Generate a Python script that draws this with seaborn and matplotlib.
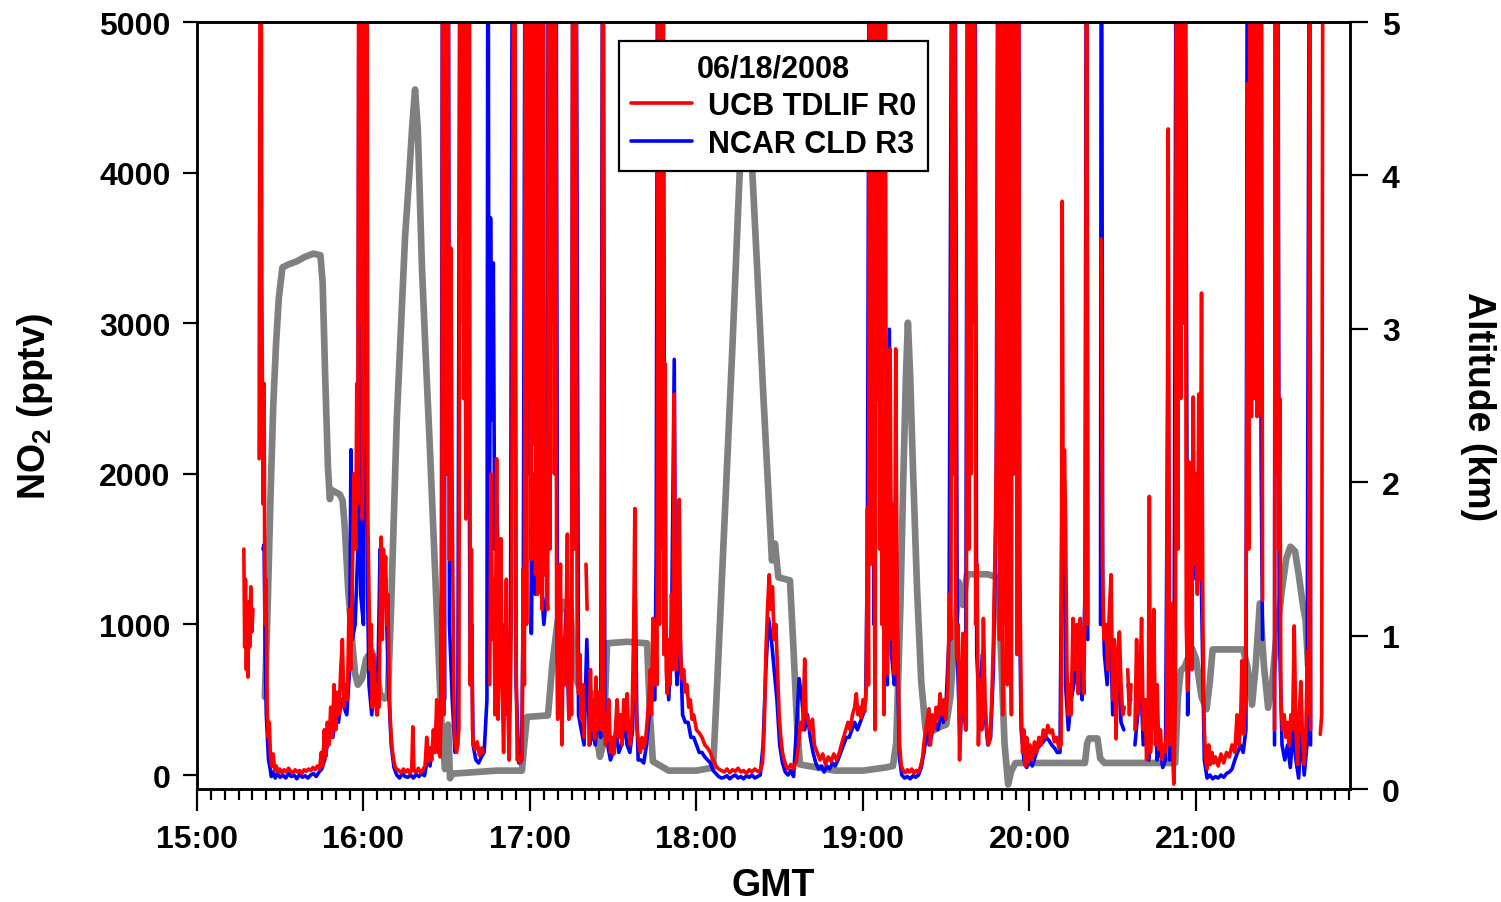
import numpy as np
import pandas as pd
import seaborn as sns
import matplotlib.pyplot as plt
from matplotlib.lines import Line2D
from matplotlib.ticker import MultipleLocator

# time in minutes after 15:00 GMT, NO2 in pptv, None = gap in the record
red = [
    (16.9, 1500), (17.2, 850), (17.5, 1300), (17.8, 700), (18.1, 1050), (18.4, 650), (18.7, 1150),
    (19.0, 850), (19.4, 1250), (19.8, 950), (20.2, 1100), (20.6, None),
    (22.4, 2100), (22.6, 4200), (23.0, 7000), (23.4, 3300), (23.8, 1800), (24.2, 2600), (24.5, 1000),
    (24.9, 1300), (25.3, 450), (25.7, 250), (26.1, 350), (26.5, 120), (27.0, 60), (27.5, 140), (28.0, 30),
    (28.6, 60), (29.2, 20), (29.8, 40), (30.6, 15), (31.4, 35), (32.2, 20), (33.0, 45), (33.8, 25),
    (34.6, 15), (35.4, 35), (36.2, 20), (37.0, 30), (37.8, 10), (38.6, 35), (39.4, 25), (40.2, 40),
    (41.0, 30), (41.8, 50), (42.6, 35), (43.4, 60), (44.2, 40), (44.8, 150), (45.3, 60), (45.9, 300),
    (46.4, 120), (47.0, 350), (47.6, 200), (48.2, 450), (48.8, 250), (49.4, 600), (50.0, 300), (50.6, 550),
    (51.2, 400), (51.8, 700), (52.4, 900), (53.0, 450), (53.6, 600), (54.2, 500), (54.8, 1100), (55.4, 700),
    (56.0, 1300), (56.6, 2000), (57.2, 1500), (57.6, 2600), (58.0, 1800), (58.4, 7000), (58.8, 3000),
    (59.2, 7000), (59.6, 1700), (60.0, 2400), (60.4, 7000), (60.8, 3500), (61.2, 7000), (61.6, 1700),
    (62.0, 1200), (62.4, 700), (62.8, 1000), (63.2, 450), (63.6, 800), (64.0, 700), (64.4, 500), (64.8, 400),
    (65.2, 600), (65.6, 450), (66.0, 1000), (66.4, 1580), (66.8, 900), (67.2, 1500), (67.6, 1300),
    (68.0, 1450), (68.4, 1000), (68.8, 1200), (69.2, 700), (69.6, 400), (70.0, 250), (70.5, 150), (71.0, 90),
    (71.5, 50), (72.0, 40), (72.8, 30), (73.6, 15), (74.4, 40), (75.2, 20), (76.0, 35), (76.8, 10),
    (77.4, 40), (77.8, 320), (78.2, 30), (79.0, 20), (79.8, 45), (80.6, 15), (81.4, 35), (82.2, 60),
    (82.8, 250), (83.4, 90), (84.0, 180), (84.6, 100), (85.2, 300), (85.8, 150), (86.4, 500), (87.0, 250),
    (87.6, 120), (88.2, 600), (88.6, 7000), (89.0, 400), (89.5, 7000), (90.0, 2000), (90.5, 6000),
    (91.0, 1430), (91.5, 3500), (92.0, 1800), (92.4, 900), (92.8, 250), (93.6, 150), (94.4, 300),
    (94.9, 7000), (95.3, 3600), (95.7, 7000), (96.1, 2500), (96.5, 4800), (96.9, 1700), (97.3, 7000),
    (97.7, 2000), (98.1, 7000), (98.5, 600), (98.9, 1500), (99.3, 300), (99.7, 200), (100.2, 170),
    (101.0, 220), (101.8, 130), (102.6, 180), (103.2, 150), (103.6, None),
    (105.5, 600), (106.0, 2000), (106.5, 900), (107.0, 1300), (107.4, 400), (108.0, 2100), (108.5, 370),
    (109.0, 900), (109.5, 1570), (110.0, 600), (110.5, 150), (111.0, 700), (111.5, 1300), (112.0, 500),
    (112.5, 100), (113.0, 600), (113.4, 1200), (114.3, 7000), (114.7, 4650), (115.0, 800), (115.4, 100),
    (116.0, 120), (116.6, 80), (117.2, 150), (117.6, 1370), (118.0, 600), (118.4, 7000), (118.8, 1000),
    (119.2, 7000), (119.6, 2500), (120.0, 7000), (120.4, 1430), (120.8, 7000), (121.2, 2200), (121.6, 7000),
    (122.0, 1330), (122.4, 4000), (122.8, 1200), (123.2, 7000), (123.6, 1500), (124.0, 3300), (124.4, 1100),
    (124.8, 7000), (125.2, 1330), (125.6, 2000), (126.0, 1200), (126.4, 1100), (126.8, 7000), (127.2, 1500),
    (127.6, 7000), (128.0, 3000), (128.4, 7000), (128.8, 2000), (129.2, 7000), (129.6, 1100), (130.0, 370),
    (130.5, 800), (131.0, 1400), (131.5, 200), (132.0, 900), (132.5, 600), (133.0, 1000), (133.5, 1600),
    (134.0, 370), (134.5, 900), (135.0, 400), (135.5, 7000), (136.0, 1500), (136.5, 7000), (137.0, 900),
    (137.5, 540), (138.0, 800), (138.5, 370), (139.0, 600), (139.5, 250), (139.8, None),
    (140.2, 1400), (140.6, 1100), (140.8, None),
    (141.3, 200), (141.8, 700), (142.3, 300), (142.8, 500), (143.3, 240), (143.8, 650), (144.3, 300),
    (144.8, 550), (145.3, 400), (145.8, 300), (146.3, 7000), (146.7, 400), (147.2, 200), (147.8, 300),
    (148.4, 500), (149.0, 150), (149.6, 250), (150.2, 140), (150.8, 300), (151.4, 500), (152.0, 250),
    (152.6, 400), (153.2, 200), (153.8, 500), (154.4, 300), (155.0, 540), (155.6, 250), (156.2, 200),
    (156.8, 400), (157.4, 1000), (157.8, 1770), (158.2, 500), (158.6, 300), (159.2, 200), (159.8, 150),
    (160.4, 250), (161.0, 180), (161.6, 220), (162.2, 350), (162.8, 500), (163.4, 700), (163.8, 400),
    (164.3, 1040), (164.8, 600), (165.3, 900), (165.8, 600), (166.3, 7000), (166.7, 1000), (167.1, 7000),
    (167.5, 1500), (167.9, 7000), (168.3, 800), (168.7, 2730), (169.1, 700), (169.5, 540), (170.0, 900),
    (170.5, 600), (171.0, 1200), (171.5, 700), (172.0, 2530), (172.4, 900), (172.8, 700), (173.3, 1100),
    (173.8, 1830), (174.3, 800), (174.8, 640), (175.4, 700), (176.0, 550), (176.6, 600), (177.2, 450),
    (177.8, 500), (178.4, 370), (179.0, 400), (180.0, 300), (181.0, 280), (182.0, 250), (183.0, 200),
    (184.0, 180), (185.0, 150), (186.0, 100), (187.0, 60), (188.0, 40), (189.0, 30), (190.0, 20),
    (191.0, 40), (192.0, 15), (193.0, 35), (194.0, 25), (195.0, 45), (196.0, 20), (197.0, 30), (198.0, 10),
    (199.0, 35), (200.0, 20), (201.0, 40), (202.0, 25), (203.0, 30), (203.8, 80), (204.4, 300), (205.0, 800),
    (205.6, 1100), (206.2, 1330), (206.8, 1100), (207.4, 1250), (208.0, 900), (208.6, 1000), (209.2, 700),
    (209.8, 400), (210.4, 250), (211.0, 150), (211.6, 100), (212.3, 60), (213.0, 40), (214.0, 70),
    (215.0, 40), (216.0, 90), (216.8, 200), (217.5, 350), (218.3, 300), (219.0, 770), (219.5, 400),
    (220.2, 370), (221.0, 300), (221.8, 370), (222.5, 200), (223.5, 150), (224.5, 100), (225.5, 140),
    (226.5, 70), (227.5, 120), (228.5, 90), (229.5, 140), (230.5, 100), (231.5, 150), (232.2, 200),
    (233.0, 250), (233.8, 300), (234.6, 350), (235.4, 300), (236.2, 400), (237.0, 450), (237.6, 540),
    (238.2, 400), (238.8, 450), (239.4, 380), (240.0, 500), (240.6, 420), (241.2, 600), (241.6, 1770),
    (242.0, 600), (242.4, 7000), (242.8, 1400), (243.2, 7000), (243.6, 2000), (244.0, 1600), (244.4, 300),
    (244.8, 7000), (245.2, 2500), (245.6, 7000), (246.0, 1500), (246.4, 7000), (246.8, 1000), (247.2, 3000),
    (247.6, 400), (248.0, 7000), (248.4, 1200), (248.8, 670), (249.3, 1500), (249.8, 2830), (250.3, 900),
    (250.8, 1800), (251.3, 670), (251.8, 2830), (252.3, 1200), (252.7, 640), (253.2, 200), (253.8, 60),
    (254.5, 30), (255.3, 15), (256.0, 35), (256.8, 20), (257.6, 40), (258.4, 10), (259.2, 30), (260.0, 20),
    (260.8, 60), (261.5, 120), (262.2, 250), (263.0, 350), (263.8, 440), (264.3, 200), (265.0, 400),
    (265.7, 300), (266.4, 450), (267.1, 370), (267.8, 540), (268.5, 400), (269.2, 500), (269.9, 370),
    (270.6, 600), (271.2, 1200), (271.7, 900), (272.2, 7000), (272.6, 2000), (273.0, 7000), (273.4, 1200),
    (273.8, 770), (274.3, 1000), (274.8, 100), (275.4, 500), (276.0, 940), (276.6, 400), (277.2, 300),
    (277.8, 7000), (278.2, 1500), (278.6, 7000), (279.0, 2000), (279.4, 7000), (279.8, 3000), (280.2, 7000),
    (280.6, 1000), (281.1, 1400), (281.6, 200), (282.2, 640), (282.8, 300), (283.4, 1040), (284.0, 500),
    (284.6, 300), (285.2, 200), (285.8, 240), (286.4, 500), (287.0, 900), (287.6, 1500), (288.2, 2300),
    (288.8, 7000), (289.2, 900), (289.6, 7000), (290.0, 1500), (290.4, 400), (290.8, 7000), (291.2, 1000),
    (291.6, 7000), (292.0, 600), (292.5, 7000), (293.0, 1500), (293.5, 400), (294.0, 7000), (294.5, 2000),
    (295.0, 7000), (295.5, 800), (296.0, 7000), (296.5, 1370), (297.0, 500), (297.5, 150), (298.0, 300),
    (298.5, 60), (299.0, 250), (299.5, 80), (300.2, 200), (301.0, 100), (301.8, 220), (302.6, 150),
    (303.4, 250), (304.2, 200), (305.0, 300), (305.8, 250), (306.6, 330), (307.4, 280), (308.2, 300),
    (309.0, 220), (309.8, 250), (310.6, 180), (311.4, 200), (311.8, 3810), (312.2, 1500), (312.6, 2160),
    (313.0, 1700), (313.5, 700), (314.0, 400), (314.5, 600), (315.0, 400), (315.7, 1040), (316.3, 700),
    (317.0, 1000), (317.6, 540), (318.3, 1040), (319.0, 800), (319.6, 540), (320.2, 1500), (320.6, 7000),
    (321.0, 1000), (321.3, None),
    (325.8, 3560), (326.3, 1400), (326.8, 900), (327.5, 1000), (328.2, 700), (328.8, 1100), (329.4, 1330),
    (330.0, 500), (330.6, 900), (331.2, 240), (331.8, 800), (332.4, 950), (333.0, 600), (333.6, 400),
    (334.2, 450), (334.6, None),
    (335.4, 700), (336.0, 400), (336.6, 600), (337.0, None),
    (338.0, 300), (338.6, 900), (339.2, 400), (339.8, 600), (340.4, 1040), (341.0, 300), (341.6, 500),
    (342.2, 100), (342.8, 400), (343.2, 1850), (343.6, 150), (344.2, 400), (344.8, 1100), (345.4, 200),
    (346.0, 600), (346.6, 170), (347.2, 300), (347.8, 100), (348.4, 200), (349.0, 150), (349.4, 300),
    (350.0, 4290), (350.5, 200), (351.0, 1140), (351.5, 400), (352.0, -60), (352.6, 500), (353.0, 7000),
    (353.5, 1500), (354.0, 7000), (354.5, 2500), (355.0, 7000), (355.5, 3000), (356.0, 7000), (356.5, 1000),
    (357.0, 560), (357.5, 2080), (358.0, 1500), (358.5, 700), (359.0, 2510), (359.5, 1400), (360.0, 2000),
    (360.5, 1200), (361.0, 2530), (361.5, 1300), (362.0, 3200), (362.5, 1000), (363.0, 300), (363.5, 100),
    (364.0, 40), (364.6, 200), (365.2, 70), (365.8, 150), (366.4, 80), (367.0, 120), (368.0, 60),
    (369.0, 140), (370.0, 80), (371.0, 150), (372.0, 120), (373.0, 200), (374.0, 150), (374.8, 400),
    (375.4, 200), (376.0, 300), (376.6, 760), (377.2, 270), (377.8, 500), (378.2, 1720), (378.6, 4590),
    (379.0, 1500), (379.5, 7000), (380.0, 2380), (380.5, 7000), (381.0, 2500), (381.5, 7000), (382.0, 2380),
    (382.5, 7000), (383.0, 2400), (383.5, 7000), (384.0, 1160), (384.3, None),
    (388.3, 300), (388.6, 7000), (389.0, 2000), (389.4, 7000), (389.8, 1500), (390.2, 2500), (390.6, 500),
    (391.2, 300), (391.8, 400), (392.4, 250), (393.0, 350), (393.6, 200), (394.2, 400), (394.8, 300),
    (395.4, 990), (396.0, 300), (396.6, 70), (397.2, 400), (397.8, 620), (398.4, 250), (399.0, 70),
    (399.6, 300), (400.2, 820), (400.6, 400), (401.0, 7000), (401.3, 300), (401.6, None),
    (404.8, 270), (405.3, 400), (405.8, 7000),
]

blue = [
    (23.8, 1500), (24.2, 1530), (24.6, 800), (25.0, 400), (25.4, 250), (25.8, 100), (26.3, 50), (26.8, -10),
    (27.5, 20), (28.2, -20), (29.0, 10), (30.0, -15), (31.0, 0), (32.0, -20), (33.0, 10), (34.0, -10),
    (35.0, 0), (36.0, -25), (37.0, 5), (38.0, -15), (39.0, -5), (40.0, -20), (41.0, 0), (42.0, 10),
    (43.0, -10), (44.0, 20), (45.0, 40), (46.0, 100), (47.0, 200), (48.0, 300), (49.0, 250), (50.0, 400),
    (51.0, 350), (52.0, 500), (53.0, 450), (54.0, 400), (55.0, 700), (55.5, 2160), (56.0, 900), (57.0, 1000),
    (58.0, 1500), (58.5, 7000), (59.0, 1200), (60.0, 1000), (60.5, 7000), (61.0, 3500), (61.5, 1200),
    (62.0, 600), (63.0, 400), (64.0, 700), (65.0, 400), (66.0, 1500), (67.0, 1200), (68.0, 1300),
    (69.0, 600), (70.0, 200), (71.0, 50), (72.0, 0), (73.0, -20), (74.0, 10), (75.0, -10), (76.0, -15),
    (77.0, 0), (78.0, -20), (79.0, 5), (80.0, -10), (81.0, 10), (82.0, -5), (83.0, 100), (84.0, 60),
    (85.0, 200), (86.0, 300), (87.0, 150), (88.0, 400), (88.6, 7000), (89.2, 500), (89.5, 7000),
    (90.0, 2000), (90.5, 7000), (91.0, 1000), (92.0, 500), (93.0, 150), (94.0, 200), (94.9, 7000),
    (95.3, 3660), (95.7, 7000), (96.1, 3000), (96.5, 7000), (97.0, 3600), (97.5, 2000), (98.0, 2500),
    (98.5, 600), (99.0, 1000), (99.5, 200), (100.5, 100), (101.5, 80), (102.5, 120), (103.5, 150),
    (104.5, 500), (104.9, 7000), (105.3, 740), (105.8, 3700), (106.3, 2360), (106.8, 3400), (107.3, 1500),
    (108.0, 1800), (109.0, 1200), (110.0, 600), (111.0, 1000), (112.0, 400), (113.0, 1000), (113.8, 7000),
    (114.3, 7000), (115.0, 600), (116.0, 80), (117.0, 100), (117.6, 1200), (118.4, 7000), (119.5, 2000),
    (120.0, 7000), (120.5, 940), (121.0, 2000), (122.0, 1200), (123.2, 7000), (124.0, 1300), (125.0, 1000),
    (126.0, 1200), (126.8, 7000), (127.6, 7000), (128.5, 7000), (129.3, 7000), (130.0, 400), (131.0, 900),
    (132.0, 600), (133.0, 1100), (134.0, 400), (135.0, 600), (135.5, 7000), (136.5, 7000), (137.5, 400),
    (138.5, 300), (139.5, 200), (140.5, 900), (141.5, 200), (142.5, 300), (143.5, 200), (144.5, 400),
    (145.5, 250), (146.3, 7000), (147.0, 300), (148.0, 200), (149.0, 100), (150.0, 150), (151.0, 300),
    (152.0, 150), (153.0, 200), (154.0, 350), (155.0, 200), (156.0, 150), (157.0, 300), (158.0, 1170),
    (158.5, 400), (159.0, 100), (160.0, 100), (161.0, 80), (162.0, 200), (163.0, 400), (164.0, 500),
    (165.0, 500), (165.5, 1500), (166.1, 7000), (166.6, 7000), (167.2, 5000), (167.9, 7000), (168.5, 1500),
    (169.0, 900), (170.0, 500), (171.0, 900), (172.0, 2760), (172.5, 800), (173.0, 600), (174.0, 1000),
    (175.0, 400), (176.0, 350), (177.0, 350), (178.0, 250), (179.0, 250), (180.0, 200), (181.0, 150),
    (182.0, 150), (183.0, 120), (184.0, 100), (185.0, 80), (186.0, 30), (187.0, 10), (188.0, -10),
    (189.0, -20), (190.0, -15), (191.0, -5), (192.0, -25), (193.0, -10), (194.0, 0), (195.0, -20),
    (196.0, -10), (197.0, -25), (198.0, -5), (199.0, -15), (200.0, 0), (201.0, -20), (202.0, -10),
    (203.0, 0), (204.0, 200), (205.0, 700), (206.0, 1040), (207.0, 900), (208.0, 700), (209.0, 500),
    (210.0, 200), (211.0, 80), (212.0, 20), (213.0, 0), (214.0, 30), (215.0, -10), (216.0, 300),
    (217.0, 640), (218.0, 500), (219.0, 300), (220.0, 400), (221.0, 250), (222.0, 150), (223.0, 80),
    (224.0, 40), (225.0, 60), (226.0, 20), (227.0, 60), (228.0, 40), (229.0, 80), (230.0, 60), (231.0, 100),
    (232.0, 150), (233.0, 200), (234.0, 250), (235.0, 250), (236.0, 300), (237.0, 350), (238.0, 300),
    (239.0, 350), (240.0, 400), (241.0, 500), (241.6, 1500), (242.4, 7000), (243.2, 7000), (244.0, 1000),
    (244.8, 7000), (245.6, 7000), (246.4, 7000), (247.2, 2500), (248.0, 3000), (248.8, 600), (249.5, 2960),
    (250.3, 800), (251.3, 600), (252.0, 1500), (252.7, 500), (253.2, 100), (254.0, 0), (255.0, -20),
    (256.0, -10), (257.0, -25), (258.0, -5), (259.0, -15), (260.0, 0), (261.0, 50), (262.0, 150),
    (263.0, 300), (264.0, 200), (265.0, 300), (266.0, 350), (267.0, 300), (268.0, 400), (269.0, 350),
    (270.0, 500), (271.0, 900), (272.2, 7000), (273.0, 7000), (274.0, 800), (275.0, 200), (276.0, 700),
    (277.0, 300), (277.8, 7000), (278.3, 3230), (278.6, 7000), (279.4, 7000), (280.2, 7000), (281.0, 800),
    (282.0, 400), (283.0, 800), (284.0, 400), (285.0, 200), (286.0, 250), (287.0, 700), (288.0, 1800),
    (288.8, 7000), (289.6, 7000), (290.8, 7000), (291.6, 7000), (292.5, 7000), (294.0, 7000), (295.0, 7000),
    (296.0, 7000), (296.5, 1000), (297.0, 300), (298.0, 100), (299.0, 50), (300.0, 100), (301.0, 60),
    (302.0, 120), (303.0, 180), (304.0, 200), (305.0, 220), (306.0, 250), (307.0, 230), (308.0, 200),
    (309.0, 180), (310.0, 150), (311.0, 150), (311.8, 2000), (312.5, 1800), (313.0, 600), (314.0, 300),
    (315.0, 500), (316.0, 600), (317.0, 800), (318.0, 700), (319.0, 500), (320.0, 1200), (320.6, 7000),
    (321.0, 900), (321.3, None),
    (325.6, 1000), (325.9, 7000), (326.4, 1200), (327.0, 800), (328.0, 600), (329.0, 1100), (330.0, 400),
    (331.0, 500), (332.0, 700), (333.0, 350), (334.0, 300), (334.6, None),
    (335.5, 600), (336.5, 500), (337.0, None),
    (338.0, 200), (339.0, 400), (340.0, 700), (341.0, 200), (342.0, 500), (343.0, 100), (344.0, 300),
    (345.0, 600), (346.0, 100), (347.0, 200), (348.0, 50), (349.0, 100), (350.0, 3000), (350.5, 100),
    (351.0, 700), (352.0, -30), (353.0, 7000), (354.0, 7000), (355.0, 7000), (356.0, 7000), (357.0, 400),
    (358.0, 1200), (359.0, 1800), (360.0, 1300), (361.0, 1800), (362.0, 1200), (363.0, 100), (364.0, -20),
    (365.0, 0), (366.0, -25), (367.0, -10), (368.0, -20), (369.0, 0), (370.0, -15), (371.0, 10), (372.0, 20),
    (373.0, 40), (374.0, 100), (375.0, 150), (376.0, 200), (377.0, 150), (378.0, 300), (378.6, 7000),
    (379.5, 7000), (380.5, 7000), (381.5, 7000), (382.5, 7000), (383.5, 2000), (384.0, 900), (384.3, None),
    (388.3, 200), (388.6, 7000), (389.4, 7000), (390.0, 1000), (391.0, 200), (392.0, 100), (393.0, 200),
    (394.0, 50), (395.0, 300), (396.0, 100), (397.0, -20), (398.0, 300), (399.0, 0), (400.0, 200),
    (401.0, 7000), (401.3, 200),
]

# altitude in km
altitude = [
    (24.5, 0.6), (25.5, 1.2), (26.5, 1.9), (27.5, 2.5), (28.5, 2.9), (29.5, 3.2), (30.8, 3.4), (33.0, 3.42),
    (36.0, 3.44), (39.0, 3.47), (42.0, 3.49), (44.5, 3.48), (45.3, 3.3), (46.2, 2.7), (47.2, 2.1),
    (47.9, 1.89), (48.5, 1.95), (51.5, 1.92), (52.5, 1.88), (53.3, 1.7), (54.5, 1.3), (56.0, 0.95),
    (57.0, 0.75), (58.0, 0.68), (59.5, 0.72), (61.0, 0.85), (63.0, 0.9), (64.5, 0.8), (66.0, 0.62),
    (67.5, 0.59), (68.8, 0.6), (70.0, 1.2), (71.0, 1.8), (72.0, 2.4), (73.0, 2.8), (74.0, 3.2), (75.0, 3.6),
    (76.5, 4.0), (77.5, 4.3), (78.6, 4.56), (79.6, 4.3), (81.1, 3.39), (82.5, 2.8), (84.0, 2.2),
    (85.8, 1.43), (87.0, 0.9), (88.2, 0.4), (89.4, 0.13), (90.0, 0.3), (90.5, 0.42), (91.2, 0.07),
    (92.0, 0.1), (100.0, 0.11), (108.0, 0.12), (117.1, 0.12), (118.0, 0.3), (118.9, 0.47), (126.5, 0.48),
    (128.0, 0.8), (130.0, 1.1), (132.0, 1.22), (134.5, 1.22), (135.5, 0.9), (137.0, 0.7), (138.5, 0.63),
    (142.7, 0.62), (144.0, 0.35), (145.2, 0.21), (146.5, 0.3), (147.8, 0.95), (155.0, 0.96), (162.2, 0.95),
    (163.2, 0.5), (164.3, 0.18), (170.0, 0.12), (180.0, 0.12), (186.0, 0.14), (187.5, 0.7), (189.0, 1.3),
    (191.0, 2.1), (193.0, 2.9), (195.7, 4.07), (197.8, 4.6), (200.0, 4.07), (202.0, 3.35), (204.0, 2.6),
    (206.0, 1.9), (207.2, 1.49), (208.3, 1.6), (209.5, 1.38), (213.7, 1.36), (215.0, 0.9), (216.3, 0.4),
    (217.3, 0.16), (230.0, 0.12), (240.0, 0.12), (248.0, 0.14), (250.8, 0.15), (252.0, 0.3), (253.5, 1.2),
    (254.5, 2.0), (255.5, 2.7), (256.2, 3.04), (257.0, 2.7), (258.0, 2.1), (259.5, 1.3), (261.0, 0.7),
    (262.5, 0.4), (263.5, 0.3), (264.5, 0.37), (267.0, 0.4), (270.0, 0.42), (271.5, 0.6), (273.0, 1.0),
    (274.5, 1.35), (276.0, 1.2), (277.5, 1.4), (285.0, 1.4), (288.3, 1.38), (289.5, 1.0), (291.0, 0.3),
    (292.3, 0.03), (293.5, 0.12), (295.0, 0.17), (310.0, 0.17), (320.0, 0.17), (320.8, 0.3), (321.5, 0.33),
    (324.5, 0.33), (325.5, 0.2), (327.0, 0.17), (340.0, 0.17), (352.5, 0.17), (353.5, 0.6), (354.5, 0.77),
    (356.0, 0.8), (358.5, 0.92), (360.0, 0.85), (362.0, 0.6), (363.8, 0.52), (365.0, 0.7), (366.0, 0.91),
    (377.0, 0.91), (378.5, 0.8), (380.2, 0.55), (381.5, 0.8), (383.0, 1.21), (384.5, 0.8), (386.0, 0.53),
    (387.5, 0.7), (389.0, 1.0), (391.0, 1.3), (392.5, 1.5), (394.0, 1.58), (395.7, 1.55), (397.0, 1.4),
    (398.6, 1.19), (399.5, 1.1), (400.4, 0.8),
]

hour_labels = ["15:00", "16:00", "17:00", "18:00", "19:00", "20:00", "21:00"]
legend_title = "06/18/2008"
red_label = "UCB TDLIF R0"
blue_label = "NCAR CLD R3"


def to_frame(pairs, col):
    df = pd.DataFrame(pairs, columns=["t", col])
    df["seg"] = df[col].isna().cumsum()
    return df.dropna()


sns.set_theme(style="ticks")
plt.rcParams['font.family'] = ['Liberation Sans', 'DejaVu Sans']
plt.rcParams['font.weight'] = 'bold'
plt.rcParams['mathtext.fontset'] = 'custom'
plt.rcParams['mathtext.rm'] = 'Liberation Sans:bold'
plt.rcParams['mathtext.default'] = 'rm'
plt.rcParams['axes.linewidth'] = 1.8
plt.rcParams['axes.edgecolor'] = 'black'
plt.rcParams['text.color'] = 'black'
plt.rcParams['axes.labelcolor'] = 'black'
plt.rcParams['xtick.color'] = 'black'
plt.rcParams['ytick.color'] = 'black'

fig = plt.figure(figsize=(15.01, 9.03), dpi=100)
ax = fig.add_axes([0.1312, 0.1251, 0.7682, 0.8494])
ax2 = ax.twinx()

alt_df = to_frame(altitude, "km")
sns.lineplot(data=alt_df, x="t", y="km", units="seg", estimator=None, sort=False,
             color="#808080", lw=4.8, ax=ax2, legend=False)

blue_df = to_frame(blue, "no2")
red_df = to_frame(red, "no2")
sns.lineplot(data=blue_df, x="t", y="no2", units="seg", estimator=None, sort=False,
             color="#0000ff", lw=2.6, ax=ax, legend=False)
sns.lineplot(data=red_df, x="t", y="no2", units="seg", estimator=None, sort=False,
             color="#ff0000", lw=2.6, ax=ax, legend=False)

ax.set_zorder(ax2.get_zorder() + 1)
ax.patch.set_visible(False)

ax.set_xlim(0, 415.5)
ax.set_ylim(-93, 5000)
ax2.set_ylim(0, 5)

ax.set_xticks(range(0, 361, 60))
ax.set_xticklabels(hour_labels)
ax.xaxis.set_minor_locator(MultipleLocator(5))
ax.set_yticks(range(0, 5001, 1000))
ax2.set_yticks(range(0, 6))

ax.tick_params(axis="x", which="major", length=16, width=1.6, labelsize=23, pad=9, direction="out")
ax.tick_params(axis="x", which="minor", length=8, width=1.6, direction="out")
ax.tick_params(axis="y", which="major", length=10, width=1.6, labelsize=23, pad=9, direction="out")
ax2.tick_params(axis="y", which="major", length=13, width=1.6, labelsize=23, pad=10, direction="out")
for lbl in ax.get_xticklabels() + ax.get_yticklabels() + ax2.get_yticklabels():
    lbl.set_fontweight("bold")

ax.set_xlabel("GMT", fontsize=27, fontweight="bold")
ax.set_ylabel("NO$_2$ (pptv)", fontsize=27, fontweight="bold")
ax2.set_ylabel("Altitude (km)", fontsize=27, fontweight="bold", rotation=270, va="bottom")
ax.xaxis.set_label_coords(0.5, -0.102)
ax.yaxis.set_label_coords(-0.123, 0.5)
ax2.yaxis.set_label_coords(1.095, 0.5)

handles = [Line2D([], [], color="#ff0000", lw=2.6), Line2D([], [], color="#0000ff", lw=2.6)]
leg = ax.legend(handles, [red_label, blue_label], title=legend_title,
                loc="upper left", bbox_to_anchor=(0.366, 0.975), borderaxespad=0,
                prop={"size": 22, "weight": "bold"}, title_fontproperties={"size": 22, "weight": "bold"},
                frameon=True, fancybox=False, framealpha=1, edgecolor="black",
                handlelength=2.0, handletextpad=0.5, labelspacing=0.25, borderpad=0.4)
leg.get_frame().set_linewidth(1.6)

fig.savefig("out.png", dpi=100)
